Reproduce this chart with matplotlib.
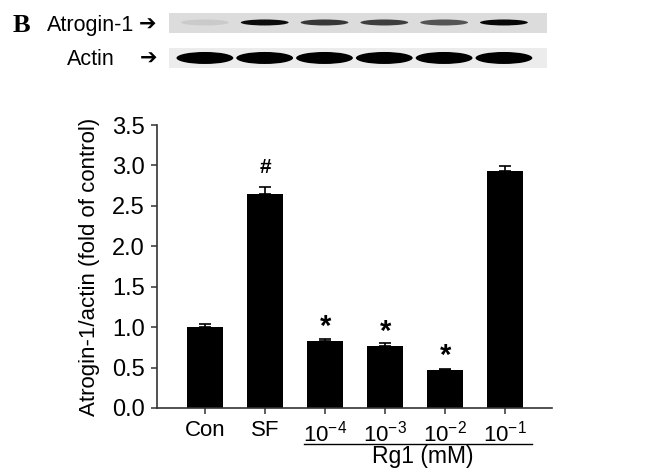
import numpy as np
from matplotlib import pyplot as plt
from matplotlib.patches import Ellipse, Rectangle
from matplotlib import transforms

plt.rcParams['font.family'] = ['Liberation Sans', 'DejaVu Sans']
plt.rcParams['mathtext.default'] = 'regular'

groups = ['Con', 'SF', '10$^{-4}$', '10$^{-3}$', '10$^{-2}$', '10$^{-1}$']
ratio = [1.00, 2.65, 0.83, 0.77, 0.47, 2.93]
err = [0.04, 0.08, 0.02, 0.04, 0.01, 0.06]
marks = ['', '#', '*', '*', '*', '']
mark_y = [0, 2.97, 1.0, 0.94, 0.64, 0]

# blot band strength (0..1)
atrogin_band = [0.08, 0.95, 0.75, 0.72, 0.62, 0.97]
actin_band = [1.0, 1.0, 1.0, 1.0, 1.0, 1.0]

fig = plt.figure(figsize=(6.47, 4.72), dpi=100)

# ---- bar chart
ax = fig.add_axes([0.2427, 0.1356, 0.6105, 0.5994])
x = np.arange(len(groups))
ax.bar(x, ratio, width=0.6, color='black', zorder=2)
ax.errorbar(x, ratio, yerr=[np.zeros(len(err)), err], fmt='none',
            ecolor='black', elinewidth=1.2, capsize=4, capthick=1.2, zorder=1)
for i, m in enumerate(marks):
    if m == '#':
        ax.text(x[i], mark_y[i], m, ha='center', va='center', fontsize=15, fontweight='bold')
    elif m:
        ax.text(x[i], mark_y[i], m, ha='center', va='center', fontsize=21, fontweight='bold')

ax.set_xlim(-0.8, 5.78)
ax.set_ylim(0, 3.5)
ax.set_yticks(np.arange(0, 3.51, 0.5))
ax.set_yticklabels(['%.1f' % v for v in np.arange(0, 3.51, 0.5)], fontsize=17)
ax.set_xticks(x)
ax.set_xticklabels(groups, fontsize=16)
ax.tick_params(direction='out', length=4, width=1.1, color='#333333', pad=5)
for s in ['top', 'right']:
    ax.spines[s].set_visible(False)
for s in ['left', 'bottom']:
    ax.spines[s].set_color('#333333')
    ax.spines[s].set_linewidth(1.2)
ax.set_ylabel('Atrogin-1/actin (fold of control)', fontsize=16)
ax.yaxis.set_label_coords(-0.145, 0.5)

trans = transforms.blended_transform_factory(ax.transData, ax.transAxes)
ax.plot([1.65, 5.45], [-0.127, -0.127], color='black', lw=1, transform=trans, clip_on=False)
ax.text(3.62, -0.172, 'Rg1 (mM)', ha='center', va='center', fontsize=16.5, transform=trans)

# ---- western blot
bx = fig.add_axes([0.2612, 0.856, 0.5842, 0.1165])
bx.set_xlim(-0.6, 5.72)
bx.set_ylim(0, 55)
bx.axis('off')
bx.add_patch(Rectangle((-0.6, 35), 6.32, 20, color='#dcdcdc', lw=0))
bx.add_patch(Rectangle((-0.6, 0), 6.32, 20, color='#ececec', lw=0))
for i, v in enumerate(atrogin_band):
    bx.add_patch(Ellipse((i, 45.5), 0.8, 6, color='black', alpha=v, lw=0))
for i, v in enumerate(actin_band):
    bx.add_patch(Ellipse((i, 10), 0.95, 12, color='black', alpha=v, lw=0))

fig.text(0.02, 0.947, 'B', fontsize=19, fontweight='bold', family='Liberation Serif',
         ha='left', va='center')
fig.text(0.073, 0.947, 'Atrogin-1', fontsize=15.5, ha='left', va='center')
fig.text(0.214, 0.947, '\u2794', fontsize=15, family='DejaVu Sans', ha='left', va='center')
fig.text(0.103, 0.874, 'Actin', fontsize=15.5, ha='left', va='center')
fig.text(0.216, 0.876, '\u2794', fontsize=15, family='DejaVu Sans', ha='left', va='center')

plt.savefig('out.png', dpi=100)
